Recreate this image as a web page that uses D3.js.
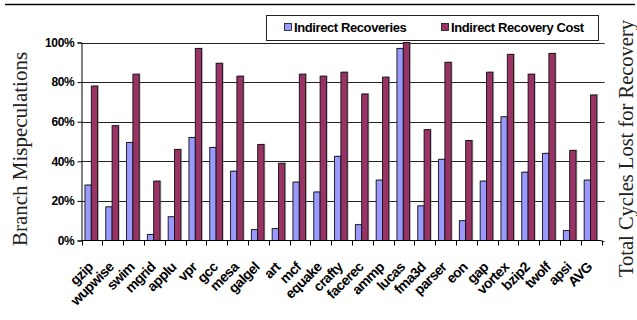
<!DOCTYPE html>
<html>
<head>
<meta charset="utf-8">
<script src="https://cdn.jsdelivr.net/npm/d3@7/dist/d3.min.js"></script>
<style>
  html, body { margin: 0; padding: 0; background: #fff; }
  svg { display: block; }
</style>
</head>
<body>
<svg id="chart" width="637" height="320"></svg>
<script>
// Benchmarks (SPEC CPU2000) plus the average
const categories = ["gzip", "wupwise", "swim", "mgrid", "applu", "vpr", "gcc", "mesa", "galgel", "art",
  "mcf", "equake", "crafty", "facerec", "ammp", "lucas", "fma3d", "parser", "eon", "gap",
  "vortex", "bzip2", "twolf", "apsi", "AVG"];

// Share of branch mispeculations handled by indirect recovery (%)
const indirectRecoveries = [28, 17, 49.5, 3, 12, 52, 47, 35, 5.5, 6,
  29.5, 24.5, 42.5, 8, 30.5, 97, 17.5, 41, 10, 30,
  62.5, 34.5, 44, 5, 30.5];

// Share of total recovery cycles spent on indirect recovery (%)
const indirectRecoveryCost = [78, 58, 84, 30, 46, 97, 89.5, 83, 48.5, 39,
  84, 83, 85, 74, 82.5, 100, 56, 90, 50.5, 85,
  94, 84, 94.5, 45.5, 73.5];

const yTickValues = [0, 20, 40, 60, 80, 100];
const seriesNames = ["Indirect Recoveries", "Indirect Recovery Cost"];
const seriesColors = ["#9999ff", "#993366"];

const svg = d3.select("#chart");
const plot = { left: 81.5, right: 601.5, top: 42.5, bottom: 240.5 };

const x = d3.scaleBand().domain(categories).range([plot.left, plot.right]).padding(0);
const y = d3.scaleLinear().domain([0, 100]).range([plot.bottom, plot.top]);
const bw = x.bandwidth();
const barW = bw * 0.305;

// rule across the top of the figure
svg.append("line")
  .attr("x1", 5).attr("x2", 635).attr("y1", 4.5).attr("y2", 4.5)
  .attr("stroke", "#000").attr("stroke-width", 1.4);

// horizontal gridlines
svg.append("g").selectAll("line")
  .data(yTickValues.filter(d => d > 0))
  .join("line")
  .attr("x1", plot.left).attr("x2", plot.right)
  .attr("y1", d => Math.round(y(d)) + 0.5).attr("y2", d => Math.round(y(d)) + 0.5)
  .attr("stroke", "#222").attr("stroke-width", 1);

// right-hand tick stubs
svg.append("g").selectAll("line")
  .data(yTickValues)
  .join("line")
  .attr("x1", plot.right).attr("x2", plot.right + 3)
  .attr("y1", d => Math.round(y(d)) + 0.5).attr("y2", d => Math.round(y(d)) + 0.5)
  .attr("stroke", "#222");

// bars, with a soft grey drop shadow
const rows = categories.map((c, i) => ({ c, vals: [indirectRecoveries[i], indirectRecoveryCost[i]] }));
const groups = svg.append("g").selectAll("g")
  .data(rows)
  .join("g")
  .attr("transform", d => `translate(${x(d.c) + bw / 2 - 0.6},0)`);

groups.selectAll("rect.shadow")
  .data(d => d.vals)
  .join("rect")
  .attr("class", "shadow")
  .attr("x", (v, j) => (j === 0 ? -barW : 0) + 1.3)
  .attr("y", v => y(v) - 0.8)
  .attr("width", barW)
  .attr("height", v => plot.bottom - y(v) + 0.8)
  .attr("fill", "#8a8a8a").attr("opacity", 0.55);

groups.selectAll("rect.bar")
  .data(d => d.vals)
  .join("rect")
  .attr("class", "bar")
  .attr("x", (v, j) => j === 0 ? -barW : 0)
  .attr("y", v => y(v))
  .attr("width", barW)
  .attr("height", v => plot.bottom - y(v))
  .attr("fill", (v, j) => seriesColors[j])
  .attr("stroke", "#111").attr("stroke-width", 0.9);

// left axis
const yAxis = d3.axisLeft(y).tickValues(yTickValues).tickFormat(d => d + "%").tickSize(4).tickPadding(3);
const yg = svg.append("g").attr("transform", `translate(${plot.left},0)`).call(yAxis);
yg.select(".domain").attr("stroke", "#000");
yg.selectAll(".tick line").attr("stroke", "#000");
yg.selectAll(".tick text")
  .attr("font-family", "Arial, 'Liberation Sans', sans-serif")
  .attr("font-weight", "bold").attr("font-size", 12).attr("fill", "#000")
  .attr("letter-spacing", -0.3);

// x axis baseline and category boundary ticks
svg.append("line")
  .attr("x1", plot.left).attr("x2", plot.right)
  .attr("y1", plot.bottom).attr("y2", plot.bottom)
  .attr("stroke", "#000").attr("stroke-width", 1.2);
const bounds = categories.map(c => x(c)).concat([plot.right]);
svg.append("g").selectAll("line")
  .data(bounds)
  .join("line")
  .attr("x1", d => Math.round(d) + 0.5).attr("x2", d => Math.round(d) + 0.5)
  .attr("y1", plot.bottom).attr("y2", plot.bottom + 5)
  .attr("stroke", "#000");

// category labels rotated 45 degrees
svg.append("g").selectAll("text")
  .data(categories)
  .join("text")
  .attr("transform", c => `translate(${x(c) + bw / 2 + 2},${plot.bottom + 27.5}) rotate(-45)`)
  .attr("text-anchor", "end")
  .attr("font-family", "Arial, 'Liberation Sans', sans-serif")
  .attr("font-weight", "bold").attr("font-size", 14).attr("letter-spacing", -0.6)
  .attr("fill", "#000")
  .text(c => c);

// axis titles
svg.append("text")
  .attr("transform", `translate(26.5,${(50 + 248) / 2}) rotate(-90)`)
  .attr("text-anchor", "middle")
  .attr("font-family", "'Times New Roman', 'Liberation Serif', serif")
  .attr("font-size", 21).attr("fill", "#222")
  .text("Branch Mispeculations");

svg.append("text")
  .attr("transform", `translate(633,${(20 + 277) / 2}) rotate(-90)`)
  .attr("text-anchor", "middle")
  .attr("font-family", "'Times New Roman', 'Liberation Serif', serif")
  .attr("font-size", 20.5).attr("fill", "#222")
  .text("Total Cycles Lost for Recovery");

// legend
const legend = svg.append("g");
legend.append("rect")
  .attr("x", 266.5).attr("y", 15.5).attr("width", 332).attr("height", 25)
  .attr("fill", "#fff").attr("stroke", "#222").attr("stroke-width", 1);
const legendX = [284, 441];
const items = legend.selectAll("g.item")
  .data(seriesNames)
  .join("g")
  .attr("class", "item")
  .attr("transform", (d, i) => `translate(${legendX[i]},0)`);
items.append("rect")
  .attr("x", 0.5).attr("y", 23.5).attr("width", 7).attr("height", 7)
  .attr("fill", (d, i) => seriesColors[i]).attr("stroke", "#111").attr("stroke-width", 0.8);
items.append("text")
  .attr("x", 10).attr("y", 32)
  .attr("font-family", "Arial, 'Liberation Sans', sans-serif")
  .attr("font-weight", "bold").attr("font-size", 13).attr("letter-spacing", -0.4)
  .attr("fill", "#000")
  .text(d => d);
</script>
</body>
</html>
